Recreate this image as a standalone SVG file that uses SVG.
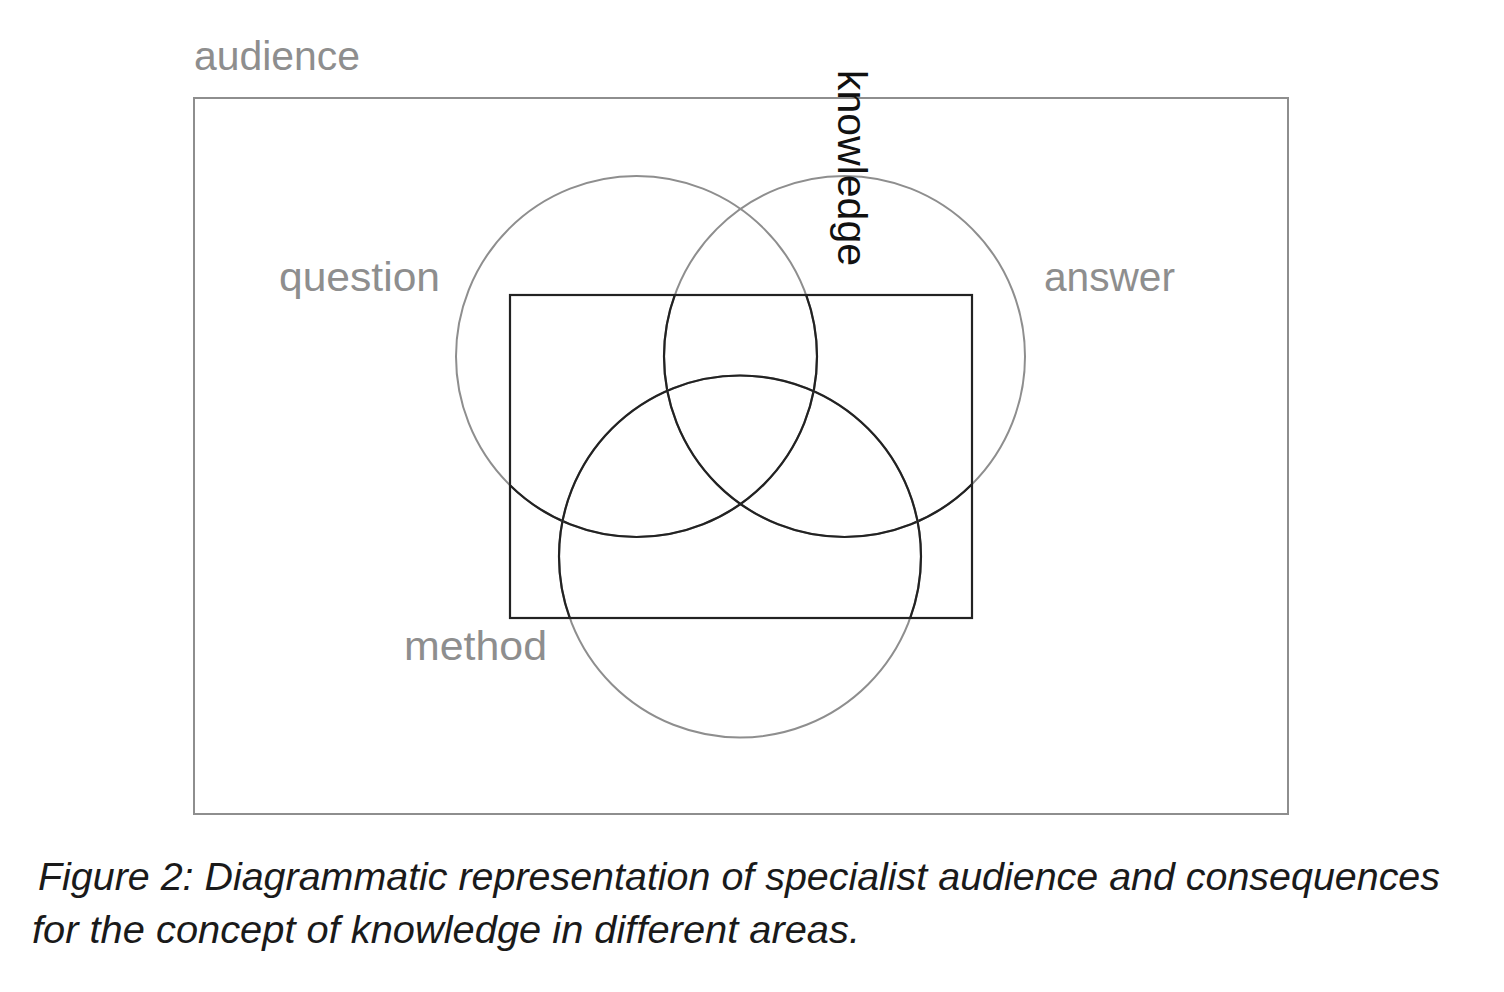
<svg xmlns="http://www.w3.org/2000/svg" width="1504" height="992" viewBox="0 0 1504 992">
<style>
.g{fill:none;stroke:#8e8e8e;stroke-width:2}
.d{fill:none;stroke:#222;stroke-width:2.2}
.lbl{font-family:"Liberation Sans",Arial,sans-serif;font-size:40px;fill:#8e8e8e}
.kn{font-family:"Liberation Sans",Arial,sans-serif;font-size:40px;fill:#111}
.cap{font-family:"Liberation Sans",Arial,sans-serif;font-style:italic;font-size:38px;fill:#1a1a1a}
</style>
<defs>
<clipPath id="inner"><rect x="510" y="295" width="462" height="323"/></clipPath>
</defs>
<rect width="1504" height="992" fill="#fff"/>
<g id="audience">
<rect class="g" x="194" y="98" width="1094" height="716"/>
<text class="lbl" x="194" y="70" textLength="166" lengthAdjust="spacingAndGlyphs">audience</text>
</g>
<g id="question">
<circle class="g" cx="636.5" cy="356.5" r="180.5"/>
<circle class="d" cx="636.5" cy="356.5" r="180.5" clip-path="url(#inner)"/>
<text class="lbl" x="279" y="291" textLength="161" lengthAdjust="spacingAndGlyphs">question</text>
</g>
<g id="answer">
<circle class="g" cx="844.5" cy="356.5" r="180.5"/>
<circle class="d" cx="844.5" cy="356.5" r="180.5" clip-path="url(#inner)"/>
<text class="lbl" x="1044" y="291" textLength="131" lengthAdjust="spacingAndGlyphs">answer</text>
</g>
<g id="method">
<circle class="g" cx="740" cy="556.5" r="181"/>
<circle class="d" cx="740" cy="556.5" r="181" clip-path="url(#inner)"/>
<text class="lbl" x="404" y="660" textLength="143" lengthAdjust="spacingAndGlyphs">method</text>
</g>
<g id="knowledge">
<rect class="d" x="510" y="295" width="462" height="323"/>
<text class="kn" transform="translate(838,70) rotate(90)" x="0" y="0" textLength="196" lengthAdjust="spacingAndGlyphs">knowledge</text>
</g>
<g id="connectors"></g>
<g id="caption">
<text class="cap" x="38" y="890" textLength="1402" lengthAdjust="spacingAndGlyphs">Figure 2: Diagrammatic representation of specialist audience and consequences</text>
<text class="cap" x="32" y="943" textLength="828" lengthAdjust="spacingAndGlyphs">for the concept of knowledge in different areas.</text>
</g>
</svg>
